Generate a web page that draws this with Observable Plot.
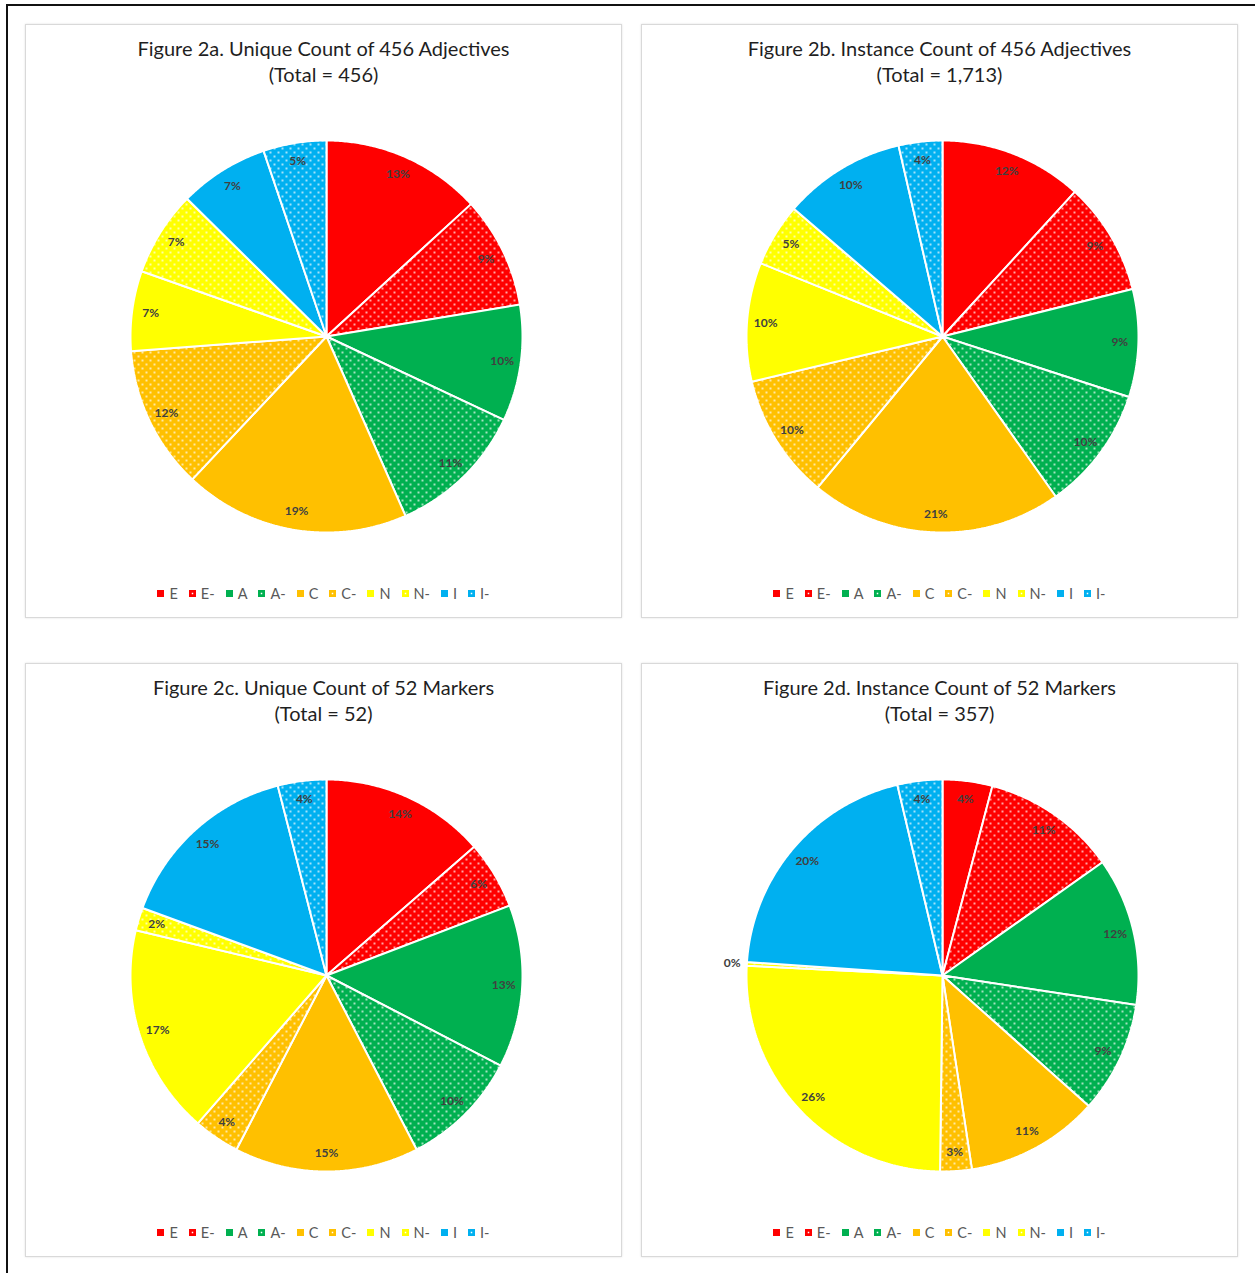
<!DOCTYPE html>
<html>
<head>
<meta charset="utf-8">
<script src="https://cdn.jsdelivr.net/npm/d3@7"></script>
<script src="https://cdn.jsdelivr.net/npm/@observablehq/plot@0.6"></script>
<style>
  html, body { margin: 0; padding: 0; background: #fff; }
  body { width: 1255px; height: 1273px; position: relative; overflow: hidden; font-family: Lato, "Open Sans", sans-serif; }
  .frame { position: absolute; left: 6px; top: 4px; width: 1300px; height: 1300px; border-top: 2px solid #111; border-left: 2px solid #111; }
  .panel { position: absolute; width: 595px; height: 592px; border: 1px solid #d9d9d9; box-shadow: 0 0 2px rgba(0,0,0,0.12); background: #fff; }
  .title { position: absolute; left: 0; width: 100%; text-align: center; font-size: 20px; color: #1f1f1f; line-height: 1; }
  .chart { position: absolute; left: 70px; top: 81px; }
  .legend { position: absolute; left: 0; width: 100%; top: 560px; display: flex; justify-content: center; align-items: center; font-size: 14.5px; color: #595959; }
  .legend .item { display: flex; align-items: center; margin: 0 5.5px; }
  .legend svg { margin-right: 5px; }
</style>
</head>
<body>
<svg width="0" height="0" style="position:absolute">
  <defs id="patterns"></defs>
</svg>
<div class="frame"></div>
<div id="root"></div>
<script>
// ---- data (percent shares) ----
const categories = ["E", "E-", "A", "A-", "C", "C-", "N", "N-", "I", "I-"];
const baseColors = ["#FF0000", "#FF0000", "#00B050", "#00B050", "#FFC000", "#FFC000", "#FFFF00", "#FFFF00", "#00B0F0", "#00B0F0"];
const dotted = [false, true, false, true, false, true, false, true, false, true];

const titlesLine1 = [
  "Figure 2a. Unique Count of 456 Adjectives",
  "Figure 2b. Instance Count of 456 Adjectives",
  "Figure 2c. Unique Count of 52 Markers",
  "Figure 2d. Instance Count of 52 Markers"
];
const titlesLine2 = ["(Total = 456)", "(Total = 1,713)", "(Total = 52)", "(Total = 357)"];

const shares2a = [13.2, 9.2, 9.6, 11.4, 18.6, 11.8, 6.6, 7.0, 7.4, 5.2];
const shares2b = [11.8, 9.3, 8.9, 10.2, 20.8, 10.3, 9.8, 5.2, 10.1, 3.6];
const shares2c = [13.6, 5.6, 13.4, 9.8, 15.2, 3.8, 17.3, 1.9, 15.4, 4.0];
const shares2d = [4.1, 11.1, 12.2, 9.2, 11.0, 2.6, 25.6, 0.3, 20.2, 3.7];

const panelShares = [shares2a, shares2b, shares2c, shares2d];
const panelPos = [[25, 24], [641, 24], [25, 663], [641, 663]];

// ---- patterns ----
const defs = document.getElementById("patterns");
const NS = "http://www.w3.org/2000/svg";
baseColors.forEach((c, i) => {
  if (!dotted[i]) return;
  const id = "dot" + i;
  const p = document.createElementNS(NS, "pattern");
  p.setAttribute("id", id);
  p.setAttribute("width", 8); p.setAttribute("height", 8);
  p.setAttribute("patternUnits", "userSpaceOnUse");
  p.innerHTML = `<rect width="8" height="8" fill="${c}"/>` +
    `<rect x="1.2" y="1.2" width="1.6" height="1.6" fill="#fff"/>` +
    `<rect x="5.2" y="5.2" width="1.6" height="1.6" fill="#fff"/>`;
  defs.appendChild(p);
});
const fillFor = i => dotted[i] ? `url(#dot${i})` : baseColors[i];

function pieData(values) {
  const total = d3.sum(values);
  const pts = [], labels = [];
  let acc = 0;
  values.forEach((v, i) => {
    const a0 = acc / total * 2 * Math.PI;
    const a1 = (acc + v) / total * 2 * Math.PI;
    acc += v;
    const n = Math.max(2, Math.ceil((a1 - a0) / (Math.PI / 360)));
    pts.push({k: i, x: 0, y: 0});
    for (let j = 0; j <= n; j++) {
      const a = a0 + (a1 - a0) * j / n;
      pts.push({k: i, x: Math.sin(a), y: Math.cos(a)});
    }
    pts.push({k: i, x: 0, y: 0});
    const pct = Math.round(v / total * 100);
    const am = (a0 + a1) / 2;
    const rr = pct === 0 ? 1.075 : 0.905;
    labels.push({x: rr * Math.sin(am), y: rr * Math.cos(am), text: pct + "%"});
  });
  return {pts, labels};
}

const root = document.getElementById("root");
panelShares.forEach((values, p) => {
  const panel = document.createElement("div");
  panel.className = "panel";
  panel.style.left = panelPos[p][0] + "px";
  panel.style.top = panelPos[p][1] + "px";
  root.appendChild(panel);

  const t1 = document.createElement("div");
  t1.className = "title"; t1.style.top = "13px"; t1.textContent = titlesLine1[p];
  const t2 = document.createElement("div");
  t2.className = "title"; t2.style.top = "39px"; t2.textContent = titlesLine2[p];
  panel.appendChild(t1); panel.appendChild(t2);

  const {pts, labels} = pieData(values);
  const chart = Plot.plot({
    width: 460, height: 460, margin: 34,
    x: {domain: [-1, 1], axis: null},
    y: {domain: [-1, 1], axis: null},
    color: {type: "identity"},
    style: {background: "transparent", overflow: "visible"},
    marks: [
      Plot.line(pts, {x: "x", y: "y", z: "k", fill: d => fillFor(d.k), stroke: "white", strokeWidth: 2, strokeLinejoin: "miter"}),
      Plot.text(labels, {x: "x", y: "y", text: "text", fill: "#404040", fontSize: 12, fontWeight: "bold", fontFamily: "Lato, 'Open Sans', sans-serif"})
    ]
  });
  const holder = document.createElement("div");
  holder.className = "chart";
  holder.appendChild(chart);
  panel.appendChild(holder);

  const legend = document.createElement("div");
  legend.className = "legend";
  categories.forEach((c, i) => {
    const item = document.createElement("span");
    item.className = "item";
    const dot = dotted[i] ? `<rect x="2.75" y="2.75" width="1.5" height="1.5" fill="#fff"/>` : "";
    item.innerHTML = `<svg width="7" height="7"><rect width="7" height="7" fill="${baseColors[i]}"/>${dot}</svg><span>${c}</span>`;
    legend.appendChild(item);
  });
  panel.appendChild(legend);
});
</script>
</body>
</html>
